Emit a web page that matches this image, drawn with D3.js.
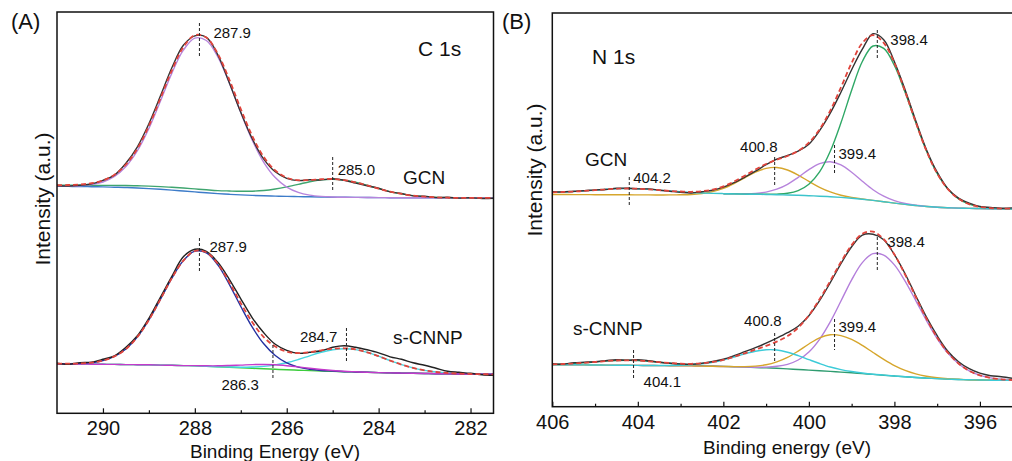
<!DOCTYPE html>
<html>
<head>
<meta charset="utf-8">
<script src="https://cdn.jsdelivr.net/npm/d3@7/dist/d3.min.js"></script>
<style>
  body { margin: 0; background: #fff; }
  text { font-family: "Liberation Sans", Arial, sans-serif; fill: #111; }
</style>
</head>
<body>
<div id="chart"></div>
<script>
// ---- data (intensity in a.u.) ----

// C 1s binding energy grid (eV)
const energyC = [291, 290.75, 290.5, 290.25, 290, 289.75, 289.5, 289.25, 289, 288.75,
  288.5, 288.25, 288, 287.75, 287.5, 287.25, 287, 286.75, 286.5, 286.25,
  286, 285.75, 285.5, 285.25, 285, 284.75, 284.5, 284.25, 284, 283.75,
  283.5, 283.25, 283, 282.75, 282.5, 282.25, 282, 281.75, 281.5];

// GCN, C 1s
const gcnC_raw = [227.5, 227.2, 228.0, 229.4, 233.0, 238.2, 250.0, 266.5, 289.5, 317.2,
  345.5, 368.0, 377.5, 376.0, 358.5, 330.5, 301.0, 274.5, 254.2, 241.5,
  235.0, 232.7, 233.5, 233.4, 234.5, 233.1, 230.2, 227.5, 225.0, 221.4,
  219.8, 217.4, 217.0, 215.7, 216.0, 215.2, 215.6, 214.8, 215.0];
const gcnC_fit = [228.1, 228.3, 228.8, 230.1, 232.8, 238.6, 248.8, 264.8, 287.4, 314.8,
  343.0, 366.1, 378.2, 375.8, 359.5, 333.7, 304.3, 277.3, 256.3, 242.8,
  235.6, 233.1, 233.3, 234.1, 234.3, 233.2, 231.0, 228.0, 224.7, 221.7,
  219.4, 217.7, 216.6, 216.0, 215.6, 215.4, 215.4, 215.4, 215.4];
const gcnC_p1 = [227.1, 227.2, 227.6, 228.7, 231.3, 236.8, 246.8, 262.6, 284.9, 312.1,
  340.2, 363.1, 375.2, 372.8, 356.5, 330.4, 300.7, 273.1, 251.0, 235.7,
  226.1, 220.9, 218.2, 216.9, 216.3, 216.0, 215.9, 215.8, 215.7, 215.6,
  215.6, 215.5, 215.5, 215.5, 215.4, 215.4, 215.4, 215.4, 215.4];
const gcnC_p2 = [228.0, 228.0, 228.0, 228.0, 227.9, 227.9, 227.8, 227.5, 227.2, 226.7,
  226.0, 225.3, 224.4, 223.5, 222.7, 222.3, 222.0, 222.1, 222.8, 224.3,
  226.4, 228.9, 231.6, 233.5, 234.1, 233.2, 231.0, 228.0, 224.7, 221.7,
  219.4, 217.7, 216.6, 216.0, 215.6, 215.4, 215.4, 215.4, 215.4];
const gcnC_bg = [227.0, 226.9, 226.8, 226.6, 226.4, 226.1, 225.8, 225.3, 224.7, 224.0,
  223.2, 222.3, 221.4, 220.5, 219.7, 219.0, 218.4, 217.9, 217.5, 217.2,
  216.9, 216.7, 216.5, 216.3, 216.1, 216.0, 215.9, 215.8, 215.7, 215.6,
  215.6, 215.5, 215.5, 215.5, 215.4, 215.4, 215.4, 215.4, 215.4];
const gcnC_peaks = [287.9, 285.0];

// s-CNNP, C 1s
const cnnpC_raw = [50.0, 49.0, 50.5, 51.2, 54.0, 57.5, 66.0, 77.5, 95.0, 116.0,
  137.0, 156.5, 164.0, 162.0, 151.0, 134.0, 114.5, 95.5, 80.5, 69.0,
  63.0, 60.0, 61.0, 62.5, 66.0, 67.5, 66.0, 63.5, 60.5, 56.5,
  54.0, 50.5, 48.0, 45.0, 42.0, 41.0, 40.0, 38.5, 38.0];
const cnnpC_fit = [49.6, 49.6, 49.8, 50.6, 52.7, 56.9, 64.3, 76.4, 93.4, 113.9,
  135.2, 152.7, 162.3, 161.0, 149.5, 131.1, 110.1, 91.1, 76.2, 66.7,
  61.6, 60.2, 61.1, 63.0, 64.6, 65.0, 63.9, 61.0, 57.1, 52.7,
  48.7, 45.4, 42.9, 41.3, 40.3, 39.7, 39.3, 39.1, 39.0];
const cnnpC_p1 = [49.6, 49.6, 49.8, 50.6, 52.7, 56.9, 64.3, 76.4, 93.4, 113.9,
  135.2, 152.7, 162.1, 160.5, 148.4, 129.0, 106.8, 86.1, 69.5, 57.8,
  50.4, 46.2, 44.0, 42.8, 42.2, 41.6, 41.3, 41.0, 40.7, 40.4,
  40.2, 40.0, 39.8, 39.6, 39.5, 39.3, 39.2, 39.1, 39.0];
const cnnpC_p2 = [49.5, 49.4, 49.2, 49.1, 49.0, 48.9, 48.7, 48.6, 48.5, 48.2,
  48.0, 47.7, 47.7, 47.5, 47.5, 47.8, 48.2, 48.7, 48.8, 48.5,
  47.6, 46.4, 45.0, 43.8, 42.8, 42.0, 41.5, 41.0, 40.7, 40.4,
  40.2, 40.0, 39.8, 39.6, 39.5, 39.3, 39.2, 39.1, 39.0];
const cnnpC_p3 = [49.5, 49.4, 49.2, 49.1, 49.0, 48.9, 48.7, 48.6, 48.5, 48.2,
  48.0, 47.7, 47.5, 47.0, 46.6, 46.3, 46.1, 46.3, 46.9, 48.4,
  50.6, 53.8, 57.5, 61.0, 63.6, 64.6, 63.7, 61.0, 57.1, 52.7,
  48.7, 45.4, 42.9, 41.3, 40.3, 39.7, 39.3, 39.1, 39.0];
const cnnpC_bg = [49.5, 49.4, 49.2, 49.1, 49.0, 48.9, 48.7, 48.6, 48.5, 48.2,
  48.0, 47.7, 47.5, 47.0, 46.5, 46.0, 45.5, 45.0, 44.5, 44.0,
  43.5, 43.1, 42.7, 42.3, 42.0, 41.6, 41.3, 41.0, 40.7, 40.4,
  40.2, 40.0, 39.8, 39.6, 39.5, 39.3, 39.2, 39.1, 39.0];
const cnnpC_peaks = [287.9, 284.7, 286.3];

// N 1s binding energy grid (eV)
const energyN = [406, 405.75, 405.5, 405.25, 405, 404.75, 404.5, 404.25, 404, 403.75,
  403.5, 403.25, 403, 402.75, 402.5, 402.25, 402, 401.75, 401.5, 401.25,
  401, 400.75, 400.5, 400.25, 400, 399.75, 399.5, 399.25, 399, 398.75,
  398.5, 398.25, 398, 397.75, 397.5, 397.25, 397, 396.75, 396.5, 396.25,
  396, 395.75, 395.5, 395.25];

// GCN, N 1s
const gcnN_raw = [215.0, 214.7, 215.5, 216.0, 216.8, 217.2, 218.5, 218.5, 217.8, 217.8,
  216.5, 215.5, 214.4, 213.7, 215.0, 216.5, 219.5, 224.0, 229.5, 235.5,
  242.0, 247.5, 251.2, 255.5, 262.5, 276.0, 293.5, 314.5, 337.0, 357.5,
  373.0, 367.0, 345.0, 317.0, 286.0, 257.0, 234.5, 218.0, 208.5, 203.5,
  200.2, 199.2, 198.5, 198.8];
const gcnN_fit = [214.4, 214.7, 215.1, 215.8, 216.5, 217.4, 217.9, 218.2, 218.0, 217.4,
  216.6, 215.8, 215.2, 214.9, 215.5, 217.1, 220.3, 225.1, 231.0, 237.2,
  242.7, 247.0, 250.7, 255.8, 264.1, 277.3, 296.1, 319.3, 343.8, 363.7,
  371.6, 363.9, 343.7, 315.3, 284.4, 255.8, 233.2, 217.6, 207.9, 202.5,
  199.8, 198.6, 198.1, 198.0];
const gcnN_p1 = [null, null, null, null, null, null, null, null, null, null,
  null, null, null, null, null, null, 213.0, 212.8, 212.6, 212.4,
  212.4, 212.6, 213.4, 216.1, 222.5, 234.8, 255.4, 283.9, 316.5, 345.2,
  360.7, 358.3, 341.3, 314.4, 284.1, 255.7, 233.2, 217.6, 207.9, 202.5,
  199.8, 198.6, 198.1, 198.0];
const gcnN_p2 = [null, null, null, null, null, null, null, null, null, null,
  null, null, null, null, null, null, 213.0, 212.9, 212.9, 213.3,
  214.6, 217.5, 222.4, 229.4, 237.0, 243.0, 245.0, 241.8, 234.5, 225.5,
  217.0, 210.5, 206.0, 203.2, 201.5, 200.3, 199.5, 199.0, 198.6, 198.3,
  198.1, 198.0, 197.9, 197.9];
const gcnN_p3 = [212.2, 212.2, 212.1, 212.1, 212.0, 212.0, 211.9, 211.9, 211.8, 211.8,
  211.7, 211.8, 211.9, 212.2, 213.2, 215.1, 218.4, 223.2, 228.9, 234.5,
  238.3, 239.2, 236.7, 231.6, 225.3, 219.4, 214.8, 211.5, 209.3, 207.7,
  206.3, 205.0, 203.6, 202.3, 201.2, 200.2, 199.5, 199.0, 198.6, 198.3,
  198.1, 198.0, 197.9, 197.9];
const gcnN_p4 = [214.4, 214.7, 215.1, 215.8, 216.5, 217.4, 217.9, 218.2, 218.0, 217.4,
  216.6, 215.7, 214.9, 214.2, 213.7, 213.3, 213.1, 212.8, 212.6, 212.4,
  212.2, 212.0, 211.7, 211.4, 211.0, 210.5, 210.0, 209.3, 208.5, 207.5,
  206.3, 205.0, 203.6, 202.3, 201.2, 200.2, 199.5, 199.0, 198.6, 198.3,
  198.1, 198.0, 197.9, 197.9];
const gcnN_peaks = [398.4, 399.4, 400.8, 404.2];

// s-CNNP, N 1s
const cnnpN_raw = [43.0, 42.5, 44.0, 44.5, 45.0, 46.0, 47.0, 46.5, 47.0, 46.0,
  44.5, 43.5, 42.8, 42.5, 43.5, 45.2, 47.5, 51.0, 55.0, 59.0,
  63.5, 68.5, 74.0, 80.5, 91.0, 106.0, 124.0, 143.0, 160.0, 171.5,
  172.5, 167.0, 152.0, 133.0, 111.0, 89.5, 71.0, 55.5, 45.0, 38.0,
  33.5, 31.0, 30.0, 28.5];
const cnnpN_fit = [42.4, 42.7, 43.2, 43.9, 44.7, 45.6, 46.2, 46.4, 46.2, 45.4,
  44.6, 43.7, 43.0, 42.9, 43.3, 44.7, 46.8, 49.9, 53.4, 57.1,
  60.8, 65.1, 70.6, 79.0, 91.3, 107.5, 125.8, 144.7, 161.6, 172.9,
  175.1, 167.5, 152.2, 132.0, 109.7, 88.0, 69.1, 54.0, 43.2, 35.8,
  31.4, 28.8, 27.4, 26.7];
const cnnpN_p1 = [42.0, 41.9, 41.9, 41.8, 41.7, 41.6, 41.5, 41.4, 41.3, 41.2,
  41.1, 41.0, 40.9, 40.8, 40.6, 40.4, 40.2, 39.9, 39.7, 39.5,
  39.6, 40.4, 42.4, 46.7, 54.7, 67.4, 84.8, 105.7, 126.9, 144.1,
  153.0, 151.6, 141.8, 125.6, 106.1, 86.1, 68.2, 53.6, 43.0, 35.8,
  31.4, 28.8, 27.4, 26.7];
const cnnpN_p2 = [42.0, 41.9, 41.9, 41.8, 41.7, 41.6, 41.5, 41.4, 41.3, 41.2,
  41.1, 41.0, 40.9, 40.8, 40.6, 40.4, 40.2, 40.1, 40.1, 40.6,
  41.9, 44.8, 49.3, 55.6, 62.7, 68.9, 71.9, 71.1, 67.3, 61.3,
  54.2, 47.3, 41.1, 36.3, 32.8, 30.5, 29.0, 28.0, 27.4, 26.9,
  26.7, 26.5, 26.4, 26.3];
const cnnpN_p3 = [42.0, 41.9, 41.9, 41.8, 41.7, 41.6, 41.5, 41.4, 41.3, 41.2,
  41.2, 41.2, 41.4, 41.9, 42.8, 44.4, 46.7, 49.7, 52.8, 55.4,
  56.9, 56.7, 54.5, 51.1, 47.1, 43.2, 39.7, 37.1, 35.2, 33.7,
  32.5, 31.6, 30.7, 29.9, 29.2, 28.6, 28.1, 27.6, 27.2, 26.9,
  26.7, 26.5, 26.4, 26.3];
const cnnpN_p4 = [42.4, 42.7, 43.2, 43.9, 44.7, 45.6, 46.2, 46.4, 46.2, 45.4,
  44.5, 43.5, 42.5, 41.8, 41.1, 40.7, 40.3, 39.9, 39.6, 39.2,
  38.8, 38.4, 37.8, 37.2, 36.6, 36.0, 35.3, 34.6, 33.9, 33.1,
  32.3, 31.5, 30.7, 29.9, 29.2, 28.6, 28.1, 27.6, 27.2, 26.9,
  26.7, 26.5, 26.4, 26.3];
const cnnpN_peaks = [398.4, 399.4, 400.8, 404.1];

// tick labels
const ticksC = [290, 288, 286, 284, 282];
const minorC = [289, 287, 285, 283];
const ticksN = [406, 404, 402, 400, 398, 396];
const minorN = [405, 403, 401, 399, 397];

// ---- layout ----
const W = 1012, H = 461;
const svg = d3.select("#chart").append("svg")
    .attr("width", W).attr("height", H);

const panels = [
  {
    name: "(A)", nameX: 11, x0: 57, x1: 493.5, y0: 12, y1: 413.3, frameR: 493.5,
    domain: [291, 281.5], ymax: 401.3, energy: energyC,
    ticks: ticksC, minor: minorC,
    title: "Binding Energy (eV)", titleX: 275, titleY: 457.5,
    ylabX: 50, ylabY: 199,
    core: { text: "C 1s", x: 418, y: 56 },
    series: [
      [gcnC_bg, "#3d7cc9"], [gcnC_p2, "#3fa56f"], [gcnC_p1, "#b784dc"],
      [gcnC_raw, "#333"], [gcnC_fit, "#e0443c", "5,3"],
      [cnnpC_bg, "#3ccc3c"], [cnnpC_p3, "#45d6e0"], [cnnpC_p1, "#2430a0"],
      [cnnpC_p2, "#c43acb"], [cnnpC_raw, "#222"], [cnnpC_fit, "#e0443c", "5,3"]
    ],
    samples: [{ text: "GCN", x: 403, y: 184 }, { text: "s-CNNP", x: 393, y: 344 }],
    marks: [
      { e: gcnC_peaks[0], y1: 23, y2: 57, dx: 14, ty: 38, anchor: "start" },
      { e: gcnC_peaks[1], y1: 157, y2: 191, dx: 5, ty: 175, anchor: "start" },
      { e: cnnpC_peaks[0], y1: 238, y2: 272, dx: 10, ty: 252, anchor: "start" },
      { e: cnnpC_peaks[1], y1: 328, y2: 362, dx: -9, ty: 342, anchor: "end" },
      { e: cnnpC_peaks[2], y1: 345, y2: 380, dx: -14, ty: 390, anchor: "end" }
    ]
  },
  {
    name: "(B)", nameX: 502, x0: 552.3, x1: 1012, y0: 13, y1: 406.7, frameR: 1030,
    domain: [406, 395.25], ymax: 393.7, energy: energyN,
    ticks: ticksN, minor: minorN,
    title: "Binding energy (eV)", titleX: 787, titleY: 454,
    ylabX: 542, ylabY: 170,
    core: { text: "N 1s", x: 592, y: 64 },
    series: [
      [gcnN_p3, "#d6a62c"], [gcnN_p2, "#b784dc"], [gcnN_p1, "#2fa866"],
      [gcnN_p4, "#3cc4cc"], [gcnN_raw, "#333"], [gcnN_fit, "#e0443c", "5,3"],
      [cnnpN_p4, "#2f9c70"], [cnnpN_p1, "#b47fdb"], [cnnpN_p2, "#d6a62c"],
      [cnnpN_p3, "#3ccbd8"], [cnnpN_raw, "#333"], [cnnpN_fit, "#e0443c", "5,3"]
    ],
    samples: [{ text: "GCN", x: 585, y: 166 }, { text: "s-CNNP", x: 573, y: 335 }],
    marks: [
      { e: gcnN_peaks[0], y1: 30, y2: 58, dx: 13, ty: 45, anchor: "start" },
      { e: gcnN_peaks[1], y1: 145, y2: 175, dx: 4, ty: 159, anchor: "start" },
      { e: gcnN_peaks[2], y1: 157, y2: 185, dx: 3, ty: 152, anchor: "end" },
      { e: gcnN_peaks[3], y1: 177, y2: 206, dx: 4, ty: 183, anchor: "start" },
      { e: cnnpN_peaks[0], y1: 237, y2: 270, dx: 10, ty: 247, anchor: "start" },
      { e: cnnpN_peaks[1], y1: 319, y2: 350, dx: 4, ty: 332, anchor: "start" },
      { e: cnnpN_peaks[2], y1: 333, y2: 362, dx: 7, ty: 326, anchor: "end" },
      { e: cnnpN_peaks[3], y1: 350, y2: 379, dx: 10, ty: 387, anchor: "start" }
    ]
  }
];

panels.forEach((p, i) => {
  const x = d3.scaleLinear().domain(p.domain).range([p.x0, p.x1]);
  const y = d3.scaleLinear().domain([0, p.ymax]).range([p.y1, p.y0]);
  const g = svg.append("g");

  g.append("clipPath").attr("id", "clip" + i)
    .append("rect").attr("x", p.x0).attr("y", p.y0)
    .attr("width", p.x1 - p.x0).attr("height", p.y1 - p.y0);

  const line = d3.line()
      .defined(d => d[1] != null)
      .x(d => x(d[0]))
      .y(d => y(d[1]))
      .curve(d3.curveCatmullRom.alpha(0.5));

  const curves = g.append("g").attr("clip-path", `url(#clip${i})`);
  p.series.forEach(([vals, color, dash]) => {
    curves.append("path")
      .datum(p.energy.map((e, k) => [e, vals[k]]))
      .attr("fill", "none")
      .attr("stroke", color)
      .attr("stroke-width", dash ? 1.8 : 1.4)
      .attr("stroke-dasharray", dash || null)
      .attr("d", line);
  });

  // frame
  g.append("rect")
    .attr("x", p.x0).attr("y", p.y0)
    .attr("width", p.frameR - p.x0).attr("height", p.y1 - p.y0)
    .attr("fill", "none").attr("stroke", "#111").attr("stroke-width", 1.5);

  // bottom axis, ticks pointing in
  const ax = g.append("g").attr("transform", `translate(0,${p.y1})`)
    .call(d3.axisBottom(x).tickValues(p.ticks).tickSize(-5).tickPadding(8)
      .tickFormat(d3.format("d")));
  ax.select(".domain").remove();
  ax.selectAll("text").style("font-size", "20px")
    .style("font-family", "'Liberation Sans', Arial, sans-serif").attr("fill", "#111");
  ax.selectAll("line").attr("stroke", "#111").attr("stroke-width", 1.2);

  const mx = g.append("g").attr("transform", `translate(0,${p.y1})`)
    .call(d3.axisBottom(x).tickValues(p.minor).tickSize(-3).tickFormat(""));
  mx.select(".domain").remove();
  mx.selectAll("line").attr("stroke", "#111").attr("stroke-width", 1.2);

  // peak markers
  p.marks.forEach(m => {
    g.append("line")
      .attr("x1", x(m.e)).attr("x2", x(m.e))
      .attr("y1", m.y1).attr("y2", m.y2)
      .attr("stroke", "#222").attr("stroke-width", 1)
      .attr("stroke-dasharray", "3,2");
    g.append("text")
      .attr("x", x(m.e) + m.dx).attr("y", m.ty)
      .attr("text-anchor", m.anchor)
      .style("font-size", "15px")
      .text(d3.format(".1f")(m.e));
  });

  p.samples.forEach(s => {
    g.append("text").attr("x", s.x).attr("y", s.y)
      .style("font-size", "19px").text(s.text);
  });

  g.append("text").attr("x", p.core.x).attr("y", p.core.y)
    .style("font-size", "21px").text(p.core.text);

  g.append("text").attr("x", p.nameX).attr("y", 29)
    .style("font-size", "22px").text(p.name);

  g.append("text").attr("x", p.titleX).attr("y", p.titleY)
    .attr("text-anchor", "middle")
    .style("font-size", "19px").text(p.title);

  g.append("text")
    .attr("transform", `translate(${p.ylabX},${p.ylabY}) rotate(-90)`)
    .attr("text-anchor", "middle")
    .style("font-size", "21px").text("Intensity (a.u.)");
});
</script>
</body>
</html>
